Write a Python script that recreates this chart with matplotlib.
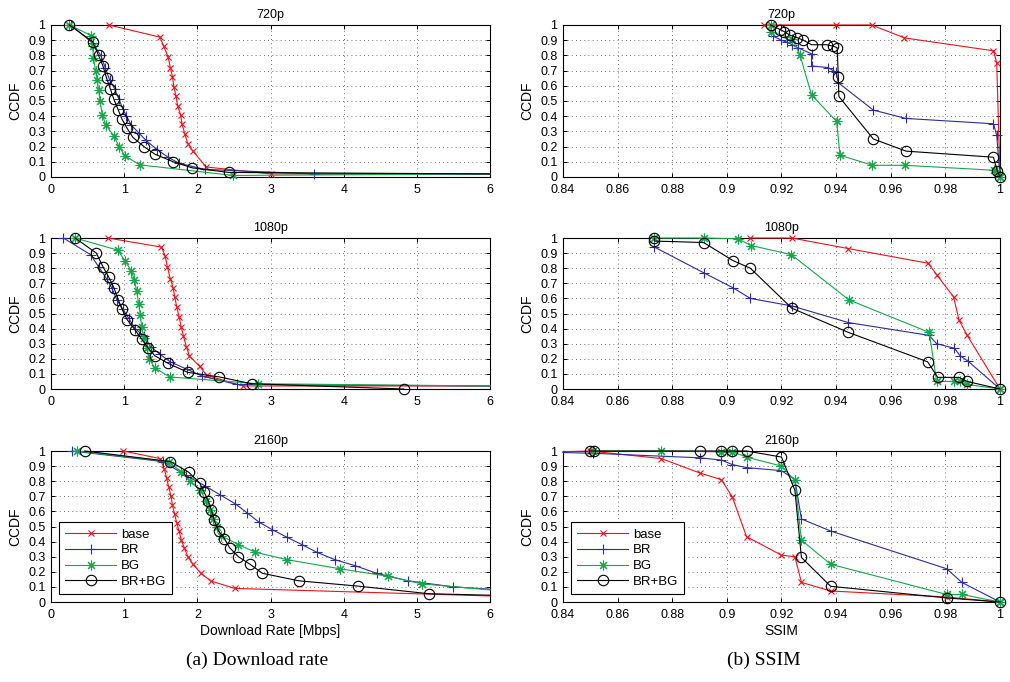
import matplotlib
matplotlib.use('Agg')
import matplotlib.pyplot as plt
from matplotlib.lines import Line2D
from matplotlib.ticker import FuncFormatter

plt.rcParams['font.family'] = ['Liberation Sans', 'DejaVu Sans']

resolutions = ['720p', '1080p', '2160p']
schemes = ['base', 'BR', 'BG', 'BR+BG']
colors = ['#e8141e', '#2c2c9e', '#17a64c', '#000000']
markers = ['x', '+', (8, 2, 0), 'o']
msizes = [5, 7, 7, 7.5]

# download rate CCDF, one list per scheme (base, BR, BG, BR+BG)
rate_720p_x = [
    [0.79, 1.49, 1.54, 1.60, 1.63, 1.66, 1.68, 1.71, 1.73, 1.77, 1.79, 1.83, 1.87, 1.94, 2.12, 3.0],
    [0.27, 0.57, 0.68, 0.74, 0.80, 0.87, 0.93, 0.98, 1.03, 1.10, 1.20, 1.30, 1.45, 1.60, 1.75, 2.10, 3.6],
    [0.25, 0.55, 0.57, 0.58, 0.61, 0.63, 0.65, 0.67, 0.70, 0.75, 0.86, 0.93, 1.01, 1.21, 2.49],
    [0.25, 0.57, 0.65, 0.71, 0.76, 0.81, 0.86, 0.92, 0.97, 1.04, 1.12, 1.27, 1.42, 1.67, 1.93, 2.43],
]
rate_720p_y = [
    [1.0, 0.92, 0.86, 0.79, 0.72, 0.66, 0.59, 0.53, 0.47, 0.41, 0.35, 0.28, 0.22, 0.17, 0.066, 0.02],
    [1.0, 0.88, 0.80, 0.72, 0.64, 0.58, 0.51, 0.45, 0.40, 0.34, 0.29, 0.24, 0.18, 0.13, 0.09, 0.05, 0.02],
    [1.0, 0.93, 0.86, 0.78, 0.70, 0.64, 0.57, 0.50, 0.41, 0.34, 0.27, 0.20, 0.14, 0.08, 0.01],
    [1.0, 0.89, 0.80, 0.73, 0.65, 0.58, 0.51, 0.44, 0.38, 0.32, 0.26, 0.20, 0.15, 0.10, 0.06, 0.03],
]
rate_1080p_x = [
    [0.78, 1.51, 1.56, 1.59, 1.63, 1.67, 1.69, 1.72, 1.75, 1.78, 1.81, 1.85, 1.89, 2.03, 2.13, 2.62],
    [0.17, 0.54, 0.65, 0.76, 0.83, 0.90, 0.98, 1.06, 1.15, 1.27, 1.36, 1.49, 1.63, 1.86, 2.07, 2.54],
    [0.33, 0.91, 1.01, 1.10, 1.14, 1.17, 1.20, 1.22, 1.24, 1.27, 1.31, 1.34, 1.42, 1.62, 2.83],
    [0.33, 0.62, 0.71, 0.79, 0.86, 0.92, 0.97, 1.04, 1.15, 1.24, 1.33, 1.42, 1.60, 1.87, 2.30, 2.74, 4.82],
]
rate_1080p_y = [
    [1.0, 0.94, 0.88, 0.81, 0.73, 0.67, 0.61, 0.54, 0.48, 0.41, 0.35, 0.28, 0.22, 0.15, 0.09, 0.02],
    [1.0, 0.89, 0.81, 0.73, 0.67, 0.59, 0.53, 0.47, 0.40, 0.35, 0.28, 0.23, 0.18, 0.13, 0.085, 0.03],
    [1.0, 0.92, 0.85, 0.78, 0.72, 0.65, 0.56, 0.49, 0.41, 0.34, 0.27, 0.20, 0.14, 0.08, 0.035],
    [1.0, 0.90, 0.81, 0.74, 0.67, 0.59, 0.53, 0.46, 0.39, 0.33, 0.27, 0.22, 0.17, 0.11, 0.08, 0.035, 0.0],
]
rate_2160p_x = [
    [0.99, 1.49, 1.55, 1.58, 1.61, 1.64, 1.66, 1.69, 1.72, 1.75, 1.78, 1.82, 1.87, 1.94, 2.05, 2.18, 2.51],
    [0.29, 1.53, 1.84, 2.10, 2.31, 2.52, 2.68, 2.84, 3.02, 3.22, 3.43, 3.63, 3.88, 4.16, 4.45, 4.88, 5.50],
    [0.35, 1.61, 1.78, 1.90, 2.04, 2.12, 2.17, 2.22, 2.27, 2.32, 2.56, 2.79, 3.23, 3.95, 4.61, 5.07],
    [0.46, 1.63, 1.88, 2.03, 2.09, 2.15, 2.19, 2.23, 2.29, 2.37, 2.44, 2.56, 2.72, 2.89, 3.39, 4.20, 5.16],
]
rate_2160p_y = [
    [1.0, 0.95, 0.88, 0.82, 0.76, 0.70, 0.64, 0.58, 0.52, 0.47, 0.41, 0.36, 0.30, 0.25, 0.19, 0.14, 0.09],
    [1.0, 0.93, 0.84, 0.77, 0.71, 0.65, 0.59, 0.53, 0.48, 0.43, 0.38, 0.33, 0.28, 0.24, 0.19, 0.14, 0.10],
    [1.0, 0.93, 0.86, 0.80, 0.74, 0.67, 0.61, 0.55, 0.50, 0.44, 0.38, 0.33, 0.28, 0.22, 0.17, 0.12],
    [1.0, 0.93, 0.86, 0.79, 0.73, 0.67, 0.61, 0.54, 0.47, 0.42, 0.36, 0.30, 0.25, 0.19, 0.14, 0.105, 0.055],
]
# where the curves leave the plot at 6 Mbps (None = curve ends inside)
rate_tail = {
    '720p': [0.02, 0.02, 0.02, 0.02],
    '1080p': [0.02, 0.02, 0.02, None],
    '2160p': [0.04, 0.085, 0.08, 0.045],
}

# SSIM CCDF
ssim_720p_x = [
    [0.9136, 0.940, 0.953, 0.965, 0.9976, 0.9988, 1.0],
    [0.917, 0.920, 0.922, 0.924, 0.926, 0.931, 0.931, 0.937, 0.9389, 0.940, 0.9408, 0.9536, 0.9656, 0.9976, 0.9988, 1.0],
    [0.916, 0.9163, 0.924, 0.9268, 0.931, 0.9402, 0.9414, 0.9533, 0.9652, 0.9978, 0.999, 1.0],
    [0.916, 0.9195, 0.921, 0.923, 0.9256, 0.928, 0.931, 0.9365, 0.939, 0.9404, 0.9408, 0.941, 0.9536, 0.9656, 0.9976, 0.999, 1.0],
]
ssim_720p_y = [
    [1.0, 1.0, 1.0, 0.915, 0.83, 0.75, 0.0],
    [0.925, 0.90, 0.886, 0.87, 0.85, 0.81, 0.73, 0.72, 0.70, 0.69, 0.62, 0.44, 0.385, 0.35, 0.275, 0.0],
    [1.0, 0.955, 0.91, 0.80, 0.54, 0.365, 0.143, 0.077, 0.077, 0.044, 0.035, 0.0],
    [1.0, 0.97, 0.956, 0.934, 0.917, 0.90, 0.87, 0.87, 0.86, 0.85, 0.66, 0.53, 0.25, 0.17, 0.13, 0.04, 0.0],
]
ssim_1080p_x = [
    [0.9086, 0.9238, 0.9445, 0.9737, 0.9768, 0.983, 0.985, 0.988, 1.0],
    [0.8735, 0.8915, 0.9023, 0.9086, 0.9238, 0.9445, 0.9741, 0.9768, 0.9833, 0.9854, 0.9882, 1.0],
    [0.8735, 0.8915, 0.904, 0.909, 0.9236, 0.9447, 0.9741, 0.9768, 0.9833, 0.9854, 0.988, 1.0],
    [0.8735, 0.8735, 0.8915, 0.9023, 0.9086, 0.9238, 0.9445, 0.9735, 0.9772, 0.985, 0.988, 1.0],
]
ssim_1080p_y = [
    [1.0, 1.0, 0.93, 0.833, 0.757, 0.61, 0.456, 0.355, 0.0],
    [0.94, 0.77, 0.67, 0.60, 0.55, 0.44, 0.355, 0.30, 0.27, 0.22, 0.186, 0.0],
    [1.0, 1.0, 0.995, 0.95, 0.89, 0.59, 0.375, 0.05, 0.05, 0.05, 0.03, 0.0],
    [1.0, 0.98, 0.97, 0.85, 0.80, 0.535, 0.375, 0.18, 0.077, 0.077, 0.05, 0.0],
]
ssim_2160p_x = [
    [0.8498, 0.876, 0.890, 0.898, 0.902, 0.9072, 0.920, 0.9249, 0.9273, 0.938, 0.9805, 1.0],
    [0.851, 0.890, 0.898, 0.902, 0.9072, 0.920, 0.9249, 0.9273, 0.938, 0.9805, 0.986, 1.0],
    [0.851, 0.876, 0.898, 0.902, 0.9072, 0.920, 0.9249, 0.9273, 0.938, 0.9805, 0.986, 1.0],
    [0.8498, 0.8515, 0.890, 0.898, 0.902, 0.9072, 0.920, 0.9249, 0.9273, 0.938, 0.9805, 1.0],
]
ssim_2160p_y = [
    [1.0, 0.95, 0.855, 0.81, 0.695, 0.433, 0.31, 0.30, 0.13, 0.073, 0.033, 0.0],
    [0.985, 0.955, 0.94, 0.91, 0.89, 0.87, 0.81, 0.55, 0.47, 0.22, 0.13, 0.0],
    [1.0, 1.0, 0.995, 0.995, 0.96, 0.90, 0.805, 0.41, 0.25, 0.05, 0.05, 0.0],
    [1.0, 1.0, 1.0, 1.0, 1.0, 1.0, 0.96, 0.74, 0.295, 0.104, 0.027, 0.0],
]
# where curves enter the plot at SSIM 0.84 (None = curve starts inside)
ssim_head = {
    '720p': [None, None, None, None],
    '1080p': [None, None, None, None],
    '2160p': [0.995, 0.99, None, None],
}

rate_x = {'720p': rate_720p_x, '1080p': rate_1080p_x, '2160p': rate_2160p_x}
rate_y = {'720p': rate_720p_y, '1080p': rate_1080p_y, '2160p': rate_2160p_y}
ssim_x = {'720p': ssim_720p_x, '1080p': ssim_1080p_x, '2160p': ssim_2160p_x}
ssim_y = {'720p': ssim_720p_y, '1080p': ssim_1080p_y, '2160p': ssim_2160p_y}


def draw(ax, xs, ys, i, lo, hi, head=None, tail=None):
    x, y = list(xs), list(ys)
    keep = list(range(len(x)))
    if head is not None:
        x = [lo] + x
        y = [head] + y
        keep = [k + 1 for k in keep]
    if tail is not None:
        x.append(hi)
        y.append(tail)
    mfc = 'none' if markers[i] == 'o' else colors[i]
    ax.plot(x, y, color=colors[i], lw=0.8, marker=markers[i], ms=msizes[i],
            mew=0.8, mfc=mfc, markevery=keep, clip_on=False, zorder=3 + i)


def style(ax, title, xlim, xticks):
    ax.set_xlim(*xlim)
    ax.set_ylim(0, 1)
    ax.set_xticks(xticks)
    ax.set_yticks([k / 10 for k in range(11)])
    fmt = FuncFormatter(lambda v, p: '%g' % round(v, 2))
    ax.xaxis.set_major_formatter(fmt)
    ax.yaxis.set_major_formatter(fmt)
    ax.tick_params(direction='in', length=3, width=0.7, labelsize=9,
                   top=True, right=True)
    ax.tick_params(axis='x', pad=5)
    ax.tick_params(axis='y', pad=4)
    ax.grid(True, linestyle=(0, (1, 4)), color='0.25', lw=0.6)
    for s in ax.spines.values():
        s.set_linewidth(0.8)
    ax.set_title(title, fontsize=9, pad=5)
    ax.set_ylabel('CCDF', fontsize=10, labelpad=4)


def add_legend(ax):
    handles = [Line2D([], [], color=colors[i], lw=0.8, marker=markers[i], ms=msizes[i],
                      mew=0.8, mfc='none' if markers[i] == 'o' else colors[i])
               for i in range(4)]
    leg = ax.legend(handles, schemes, loc='lower left', bbox_to_anchor=(0.018, 0.053),
                    borderaxespad=0, fontsize=9.5, handlelength=3.9, handletextpad=0.35,
                    labelspacing=0.27, borderpad=0.45, fancybox=False, framealpha=1,
                    edgecolor='black')
    leg.get_frame().set_linewidth(0.8)
    leg.set_zorder(10)


fig = plt.figure(figsize=(10.1, 6.82), dpi=100)
bottoms = [0.7405, 0.4296, 0.1173]
heights = [0.2229, 0.2214, 0.2214]

rate_ticks = [0, 1, 2, 3, 4, 5, 6]
ssim_ticks = [0.84 + 0.02 * k for k in range(9)]

for r, res in enumerate(resolutions):
    axl = fig.add_axes([0.0505, bottoms[r], 0.4347, heights[r]])
    for i in range(4):
        draw(axl, rate_x[res][i], rate_y[res][i], i, 0, 6, tail=rate_tail[res][i])
    style(axl, res, (0, 6), rate_ticks)

    axr = fig.add_axes([0.5574, bottoms[r], 0.4327, heights[r]])
    for i in range(4):
        draw(axr, ssim_x[res][i], ssim_y[res][i], i, 0.84, 1.0, head=ssim_head[res][i])
    style(axr, res, (0.84, 1.0), ssim_ticks)

    if r == 2:
        axl.set_xlabel('Download Rate [Mbps]', fontsize=10, labelpad=2)
        axr.set_xlabel('SSIM', fontsize=10, labelpad=2)
        add_legend(axl)
        add_legend(axr)

fig.text(0.255, 0.032, '(a) Download rate', ha='center', va='center', fontsize=14,
         family=['Liberation Serif', 'DejaVu Serif'])
fig.text(0.756, 0.032, '(b) SSIM', ha='center', va='center', fontsize=14,
         family=['Liberation Serif', 'DejaVu Serif'])

fig.savefig('out.png', dpi=100)
